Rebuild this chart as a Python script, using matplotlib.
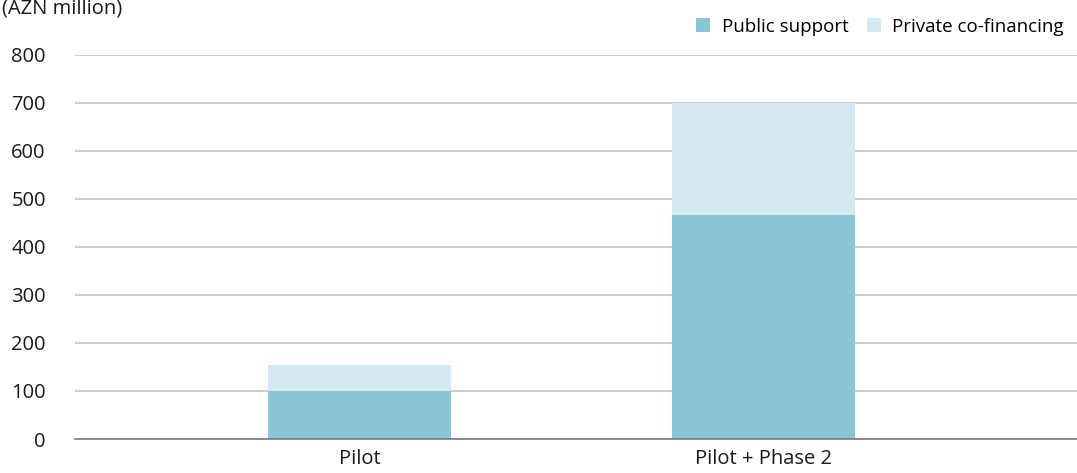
import matplotlib
matplotlib.use('Agg')
import matplotlib.pyplot as plt

plt.rcParams['font.family'] = ['Open Sans', 'DejaVu Sans']

categories = ['Pilot', 'Pilot + Phase 2']
public_support = [100, 467]
private_cofinancing = [54, 232]
y_ticks = [0, 100, 200, 300, 400, 500, 600, 700, 800]

PUBLIC = '#89c6d7'
PRIVATE = '#d5e8ef'

fig = plt.figure(figsize=(10.77, 4.73), dpi=100)
ax = fig.add_axes([75 / 1077, 1 - 439 / 473, 1 - 75 / 1077, 384 / 473])

x = list(range(len(categories)))
ax.bar(x, public_support, width=0.453, color=PUBLIC, label='Public support', zorder=3)
ax.bar(x, private_cofinancing, width=0.453, bottom=public_support, color=PRIVATE,
       label='Private co-financing', zorder=3)

ax.set_xlim(-0.704, 1.776)
ax.set_ylim(0, 800)
ax.set_yticks(y_ticks)
ax.set_xticks(x)
ax.set_xticklabels(categories)
ax.grid(axis='y', color='#c4c4c4', linewidth=1.2, zorder=0)
for s in ['top', 'right', 'left']:
    ax.spines[s].set_visible(False)
ax.spines['bottom'].set_color('#7a7a7a')
ax.spines['bottom'].set_linewidth(1.2)
ax.spines['bottom'].set_zorder(4)
ax.tick_params(axis='both', length=0, labelsize=14.5, colors='#1a1a1a')
ax.tick_params(axis='y', pad=21)
ax.tick_params(axis='x', pad=7)

# title sits partly above the top edge, as in the source image
fig.text(0.002, 0.983, '(AZN million)', fontsize=14.5, ha='left', va='center', color='#1a1a1a')

fig.legend(loc='upper right', bbox_to_anchor=(1.0, 0.99), ncol=2, frameon=False,
           fontsize=13.5, handlelength=0.75, handleheight=0.75, handletextpad=0.6,
           columnspacing=1.0, borderaxespad=0.3)

fig.savefig('out.png', dpi=100)
